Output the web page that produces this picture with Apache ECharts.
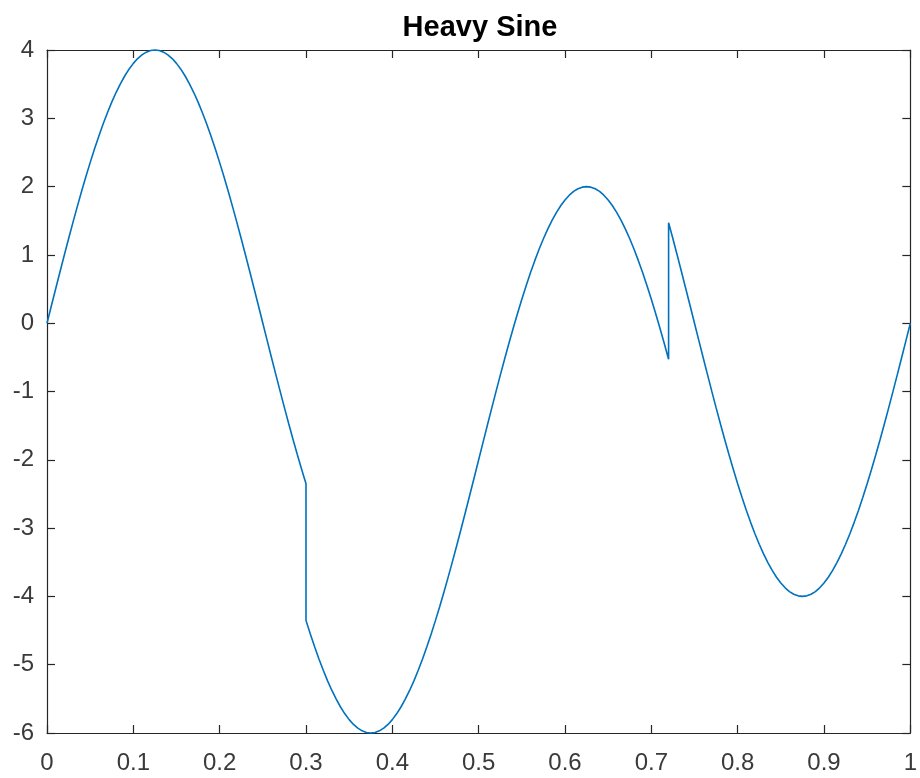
<!DOCTYPE html>
<html>
<head>
<meta charset="utf-8">
<script src="https://cdn.jsdelivr.net/npm/echarts@6/dist/echarts.min.js"></script>
<style>
html,body{margin:0;padding:0;background:#fff;}
#chart{width:920px;height:778px;}
</style>
</head>
<body>
<div id="chart"></div>
<script>
var title = 'Heavy Sine';
var xTicks = [0, 0.1, 0.2, 0.3, 0.4, 0.5, 0.6, 0.7, 0.8, 0.9, 1];
var yTicks = [-6, -5, -4, -3, -2, -1, 0, 1, 2, 3, 4];
var tValues = [
  0.000, 0.005, 0.010, 0.015, 0.020, 0.025, 0.030, 0.035, 0.040, 0.045,
  0.050, 0.055, 0.060, 0.065, 0.070, 0.075, 0.080, 0.085, 0.090, 0.095,
  0.100, 0.105, 0.110, 0.115, 0.120, 0.125, 0.130, 0.135, 0.140, 0.145,
  0.150, 0.155, 0.160, 0.165, 0.170, 0.175, 0.180, 0.185, 0.190, 0.195,
  0.200, 0.205, 0.210, 0.215, 0.220, 0.225, 0.230, 0.235, 0.240, 0.245,
  0.250, 0.255, 0.260, 0.265, 0.270, 0.275, 0.280, 0.285, 0.290, 0.295,
  0.300, 0.300,
  0.305, 0.310, 0.315, 0.320, 0.325, 0.330, 0.335, 0.340, 0.345,
  0.350, 0.355, 0.360, 0.365, 0.370, 0.375, 0.380, 0.385, 0.390, 0.395,
  0.400, 0.405, 0.410, 0.415, 0.420, 0.425, 0.430, 0.435, 0.440, 0.445,
  0.450, 0.455, 0.460, 0.465, 0.470, 0.475, 0.480, 0.485, 0.490, 0.495,
  0.500, 0.505, 0.510, 0.515, 0.520, 0.525, 0.530, 0.535, 0.540, 0.545,
  0.550, 0.555, 0.560, 0.565, 0.570, 0.575, 0.580, 0.585, 0.590, 0.595,
  0.600, 0.605, 0.610, 0.615, 0.620, 0.625, 0.630, 0.635, 0.640, 0.645,
  0.650, 0.655, 0.660, 0.665, 0.670, 0.675, 0.680, 0.685, 0.690, 0.695,
  0.700, 0.705, 0.710, 0.715, 0.720, 0.720,
  0.725, 0.730, 0.735, 0.740, 0.745,
  0.750, 0.755, 0.760, 0.765, 0.770, 0.775, 0.780, 0.785, 0.790, 0.795,
  0.800, 0.805, 0.810, 0.815, 0.820, 0.825, 0.830, 0.835, 0.840, 0.845,
  0.850, 0.855, 0.860, 0.865, 0.870, 0.875, 0.880, 0.885, 0.890, 0.895,
  0.900, 0.905, 0.910, 0.915, 0.920, 0.925, 0.930, 0.935, 0.940, 0.945,
  0.950, 0.955, 0.960, 0.965, 0.970, 0.975, 0.980, 0.985, 0.990, 0.995,
  1.000
];
var signalValues = [
  0, 0.2512, 0.5013, 0.7495, 0.9948, 1.2361, 1.4725, 1.7031, 1.9270, 2.1433,
  2.3511, 2.5497, 2.7382, 2.9159, 3.0820, 3.2361, 3.3773, 3.5052, 3.6193, 3.7191,
  3.8042, 3.8743, 3.9292, 3.9684, 3.9921, 4.0000, 3.9921, 3.9684, 3.9292, 3.8743,
  3.8042, 3.7191, 3.6193, 3.5052, 3.3773, 3.2361, 3.0820, 2.9159, 2.7382, 2.5497,
  2.3511, 2.1433, 1.9270, 1.7031, 1.4725, 1.2361, 0.9948, 0.7495, 0.5013, 0.2512,
  0, -0.2512, -0.5013, -0.7495, -0.9948, -1.2361, -1.4725, -1.7031, -1.9270, -2.1433,
  -2.3511, -4.3511,
  -4.5497, -4.7382, -4.9159, -5.0820, -5.2361, -5.3773, -5.5052, -5.6193, -5.7191,
  -5.8042, -5.8743, -5.9292, -5.9684, -5.9921, -6.0000, -5.9921, -5.9684, -5.9292, -5.8743,
  -5.8042, -5.7191, -5.6193, -5.5052, -5.3773, -5.2361, -5.0820, -4.9159, -4.7382, -4.5497,
  -4.3511, -4.1433, -3.9270, -3.7031, -3.4725, -3.2361, -2.9948, -2.7495, -2.5013, -2.2512,
  -2.0000, -1.7488, -1.4987, -1.2505, -1.0052, -0.7639, -0.5275, -0.2969, -0.0730, 0.1433,
  0.3511, 0.5497, 0.7382, 0.9159, 1.0820, 1.2361, 1.3773, 1.5052, 1.6193, 1.7191,
  1.8042, 1.8743, 1.9292, 1.9684, 1.9921, 2.0000, 1.9921, 1.9684, 1.9292, 1.8743,
  1.8042, 1.7191, 1.6193, 1.5052, 1.3773, 1.2361, 1.0820, 0.9159, 0.7382, 0.5497,
  0.3511, 0.1433, -0.0730, -0.2969, -0.5275, 1.4725,
  1.2361, 0.9948, 0.7495, 0.5013, 0.2512,
  0, -0.2512, -0.5013, -0.7495, -0.9948, -1.2361, -1.4725, -1.7031, -1.9270, -2.1433,
  -2.3511, -2.5497, -2.7382, -2.9159, -3.0820, -3.2361, -3.3773, -3.5052, -3.6193, -3.7191,
  -3.8042, -3.8743, -3.9292, -3.9684, -3.9921, -4.0000, -3.9921, -3.9684, -3.9292, -3.8743,
  -3.8042, -3.7191, -3.6193, -3.5052, -3.3773, -3.2361, -3.0820, -2.9159, -2.7382, -2.5497,
  -2.3511, -2.1433, -1.9270, -1.7031, -1.4725, -1.2361, -0.9948, -0.7495, -0.5013, -0.2512,
  0
];

var seriesData = tValues.map(function (t, i) { return [t, signalValues[i]]; });

var axisColor = '#262626';
var labelColor = '#3a3a3a';
var fontFam = '"Liberation Sans", Arial, Helvetica, sans-serif';

function xAxisDef(pos, showLabel) {
  return {
    type: 'value', position: pos, min: xTicks[0], max: xTicks[xTicks.length - 1], interval: 0.1,
    axisLine: { show: true, onZero: false, lineStyle: { color: axisColor, width: 1.2 } },
    axisTick: { show: true, inside: true, length: 8, lineStyle: { color: axisColor, width: 1.2 } },
    axisLabel: {
      show: showLabel, color: labelColor, fontSize: 24, fontFamily: fontFam, margin: 18,
      formatter: function (v) { return String(Math.round(v * 10) / 10); }
    },
    splitLine: { show: false }
  };
}
function yAxisDef(pos, showLabel) {
  return {
    type: 'value', position: pos, min: yTicks[0], max: yTicks[yTicks.length - 1], interval: 1,
    axisLine: { show: true, onZero: false, lineStyle: { color: axisColor, width: 1.2 } },
    axisTick: { show: true, inside: true, length: 8, lineStyle: { color: axisColor, width: 1.2 } },
    axisLabel: {
      show: showLabel, color: labelColor, fontSize: 24, fontFamily: fontFam, margin: 13,
      padding: [6, 0, 0, 0],
      formatter: function (v) { return String(v); }
    },
    splitLine: { show: false }
  };
}

var chart = echarts.init(document.getElementById('chart'), null, { renderer: 'canvas' });
chart.setOption({
  backgroundColor: '#ffffff',
  animation: false,
  title: {
    text: title, left: 475, textAlign: 'center', top: 8,
    textStyle: { fontSize: 29, fontWeight: 'bold', color: '#000', fontFamily: fontFam }
  },
  grid: { left: 47, top: 50, width: 866, height: 683, containLabel: false },
  xAxis: [xAxisDef('bottom', true), xAxisDef('top', false)],
  yAxis: [yAxisDef('left', true), yAxisDef('right', false)],
  series: [{
    type: 'line', xAxisIndex: 0, yAxisIndex: 0,
    data: seriesData, showSymbol: false, symbol: 'none',
    lineStyle: { color: '#0072BD', width: 1.6 },
    clip: false
  }]
});
</script>
</body>
</html>
